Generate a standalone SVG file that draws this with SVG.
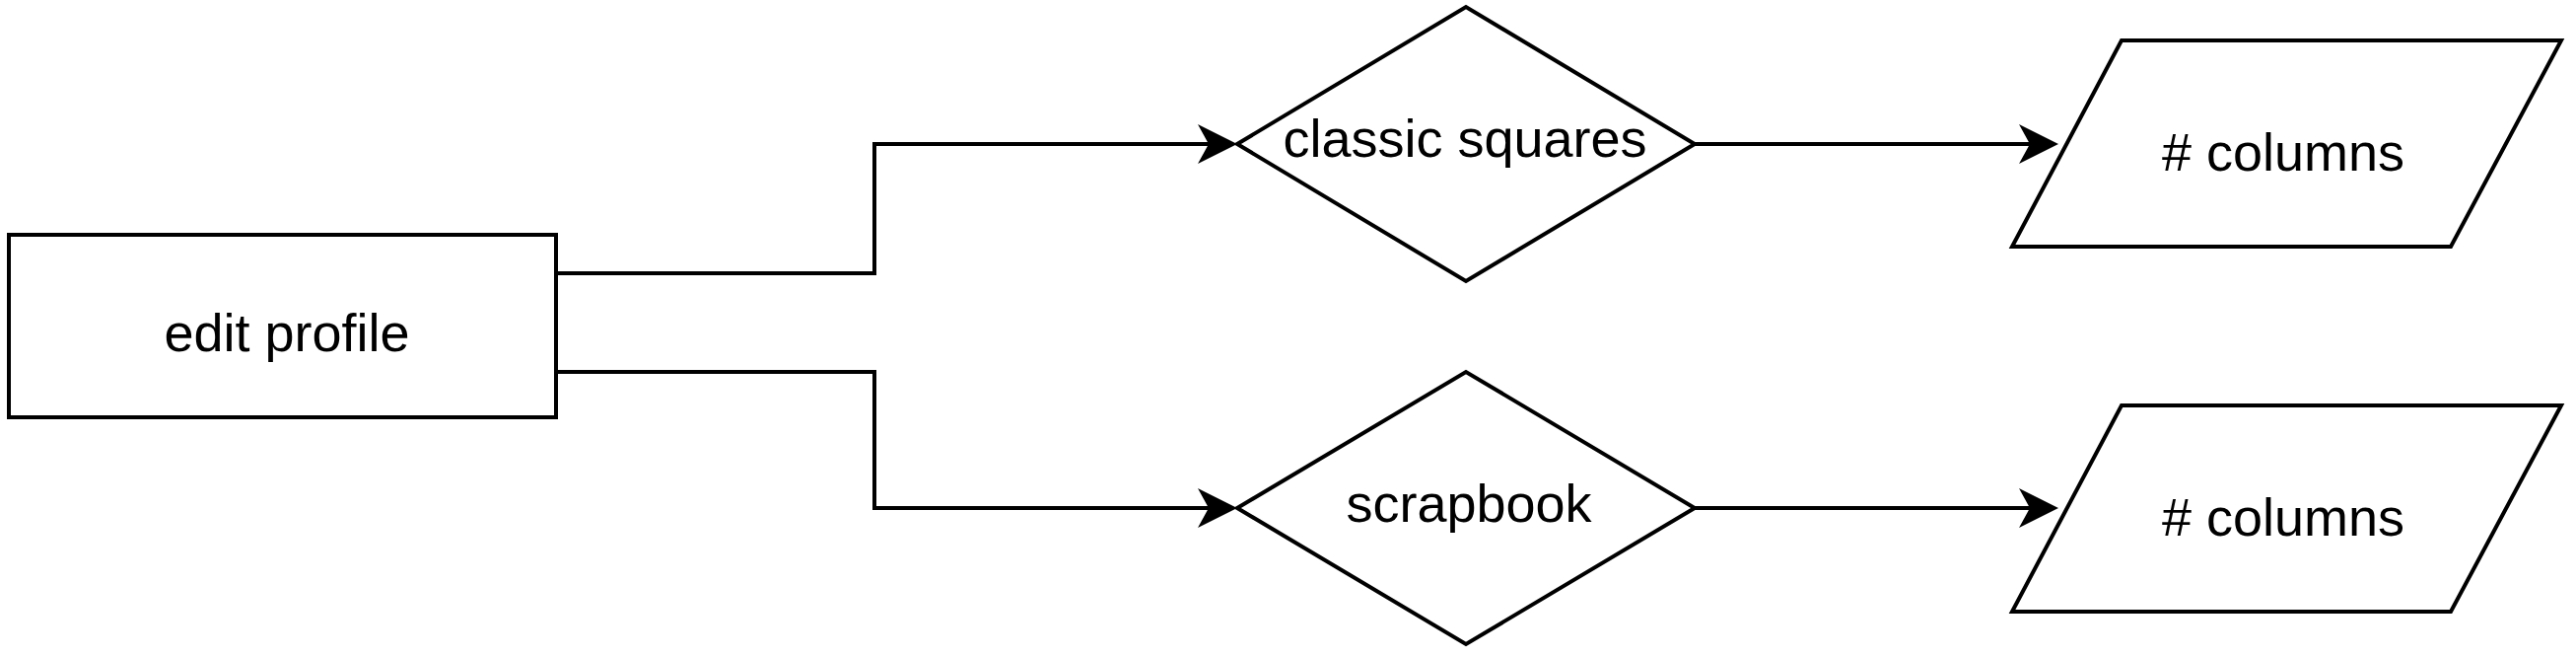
<svg xmlns="http://www.w3.org/2000/svg" width="2613" height="666" viewBox="0 0 2613 666">
<style>
.shape{fill:#fff;stroke:#000;stroke-width:4;stroke-linejoin:miter}
.edge{fill:none;stroke:#000;stroke-width:4}
.lbl{font-family:"Liberation Sans",Arial,Helvetica,sans-serif;font-size:54px;fill:#000;text-anchor:middle}
</style>
<defs>
<marker id="arr" markerUnits="userSpaceOnUse" viewBox="-42 -22 44 44" refX="-10" refY="0" markerWidth="44" markerHeight="44" orient="auto">
<path d="M0,0 L-40,-20 L-29,0 L-40,20 Z" fill="#000"/>
</marker>
</defs>
<rect width="2613" height="666" fill="#fff"/>
<g id="connectors">
<path class="edge" d="M564,277 H887 V146 H1245" marker-end="url(#arr)"/>
<path class="edge" d="M564,377 H887 V515 H1245" marker-end="url(#arr)"/>
<path class="edge" d="M1719,146 H2078" marker-end="url(#arr)"/>
<path class="edge" d="M1719,515 H2078" marker-end="url(#arr)"/>
</g>
<g id="edit-profile">
<rect class="shape" x="9" y="238" width="555" height="185"/>
<text class="lbl" x="291" y="356">edit profile</text>
</g>
<g id="classic-squares">
<polygon class="shape" points="1255,146 1487,7 1719,146 1487,285"/>
<text class="lbl" x="1486" y="159">classic squares</text>
</g>
<g id="scrapbook">
<polygon class="shape" points="1255,515 1487,377 1719,515 1487,653"/>
<text class="lbl" x="1490" y="529">scrapbook</text>
</g>
<g id="columns-1">
<polygon class="shape" points="2152,41 2598,41 2486,250 2041,250"/>
<text class="lbl" x="2316" y="173">&#35; columns</text>
</g>
<g id="columns-2">
<polygon class="shape" points="2152,411 2598,411 2486,620 2041,620"/>
<text class="lbl" x="2316" y="543">&#35; columns</text>
</g>
</svg>
